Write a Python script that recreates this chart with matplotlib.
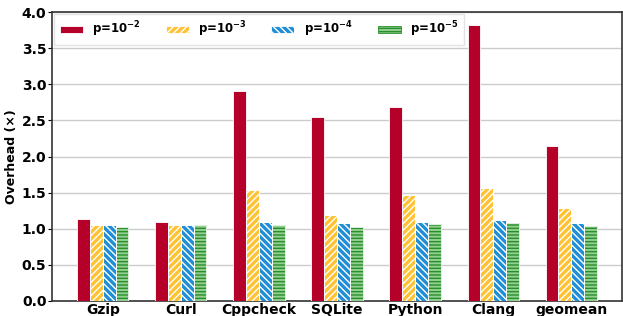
import matplotlib
matplotlib.use("Agg")
import matplotlib.pyplot as plt
import numpy as np

plt.rcParams['hatch.linewidth'] = 1.0

categories = ["Gzip", "Curl", "Cppcheck", "SQLite", "Python", "Clang", "geomean"]
labels = [r"p=10$^{\mathbf{-2}}$", r"p=10$^{\mathbf{-3}}$", r"p=10$^{\mathbf{-4}}$", r"p=10$^{\mathbf{-5}}$"]
p2 = [1.14, 1.09, 2.90, 2.54, 2.69, 3.82, 2.14]
p3 = [1.05, 1.05, 1.54, 1.19, 1.47, 1.56, 1.29]
p4 = [1.05, 1.05, 1.10, 1.08, 1.09, 1.12, 1.08]
p5 = [1.03, 1.05, 1.05, 1.03, 1.06, 1.08, 1.04]
yticks = [0.0, 0.5, 1.0, 1.5, 2.0, 2.5, 3.0, 3.5, 4.0]

fig = plt.figure(figsize=(6.23, 3.16), dpi=100)
ax = fig.add_axes([52/623, 1-301/316, 570/623, 289/316])

x = np.arange(len(categories))
w = 0.164
series = [p2, p3, p4, p5]
faces = ['#b5002a', '#ffc233', '#1f8ed6', '#92cf92']
hatches = [None, '/////', '\\\\\\\\\\', '-----']
hcolors = ['white', 'white', 'white', '#2a8f2a']
for i, (vals, fc, h, hc, lab) in enumerate(zip(series, faces, hatches, hcolors, labels)):
    off = (i - 1.5) * w
    ax.bar(x + off, vals, w, color=fc, label=lab, zorder=3, linewidth=0.6,
           edgecolor=hc, hatch=h)
    if h:
        ax.bar(x + off, vals, w, facecolor='none', edgecolor='white', linewidth=0.6, zorder=4)

ax.set_xlim(-0.65, 6.65)
ax.set_ylim(0, 4.0)
ax.set_yticks(yticks)
ax.set_yticklabels([f"{t:.1f}" for t in yticks], fontweight='bold', fontsize=10)
ax.set_xticks(x)
ax.set_xticklabels(categories, fontweight='bold', fontsize=10)
ax.set_ylabel("Overhead (×)", fontweight='bold', fontsize=9, labelpad=3)
ax.yaxis.grid(True, color='#cccccc', linewidth=1, zorder=0)
ax.set_axisbelow(True)
for s in ax.spines.values():
    s.set_color('#333333')
    s.set_linewidth(1.2)
ax.tick_params(axis='x', length=0, pad=1.5)
ax.tick_params(axis='y', length=3, pad=1)

leg = ax.legend(loc='upper left', ncol=4, prop={'weight': 'bold', 'size': 8.5},
                frameon=True, fancybox=False, edgecolor='#dddddd',
                handlelength=1.95, handleheight=0.6, columnspacing=2.1,
                borderaxespad=0.2, borderpad=0.45)
leg.set_zorder(2)
fig.savefig("out.png", dpi=100)
